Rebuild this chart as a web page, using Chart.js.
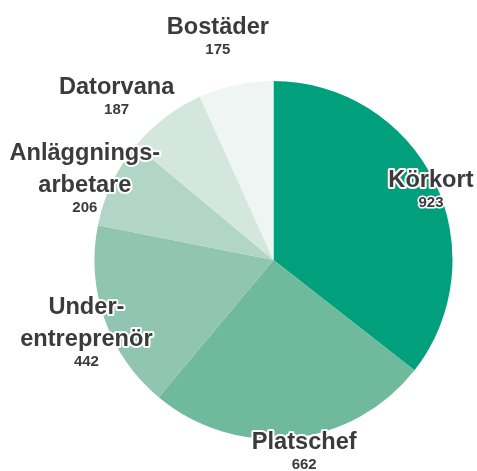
<!DOCTYPE html>
<html lang="sv">
<head>
  <meta charset="UTF-8" />
  <title>Pie</title>
  <script src="https://cdn.jsdelivr.net/npm/chart.js"></script>
  <style>
    body {
      margin: 0;
      background: #ffffff;
    }

    .wrap {
      width: 477px;
      height: 471px;
      position: relative;
    }
  </style>
</head>
<body>
  <div class="wrap">
    <canvas id="pieChart"></canvas>
  </div>

  <script>
    // data, clockwise from 12 o'clock
    const categories = [
      ["Körkort"],
      ["Platschef"],
      ["Under-", "entreprenör"],
      ["Anläggnings-", "arbetare"],
      ["Datorvana"],
      ["Bostäder"]
    ];
    const counts = [923, 662, 442, 206, 187, 175];
    const sliceColors = ["#00a07c", "#6fb99d", "#90c5b1", "#b1d6c8", "#d3e7df", "#eef5f2"];

    // label placement around each slice: radius factor and angle nudge (deg)
    const labelRadius = [0.965, 1.08, 1.12, 1.15, 1.27, 1.29];
    const labelShift = [1.7, -3.1, -1.6, -1.9, -6.4, -1.8];

    const sliceLabels = {
      id: "sliceLabels",
      afterDatasetsDraw(chart) {
        const ctx = chart.ctx;
        const arcs = chart.getDatasetMeta(0).data;
        ctx.save();
        ctx.textAlign = "center";
        ctx.textBaseline = "alphabetic";
        ctx.lineJoin = "round";
        ctx.strokeStyle = "#ffffff";
        ctx.fillStyle = "#3b3b3b";
        arcs.forEach((arc, i) => {
          const mid = (arc.startAngle + arc.endAngle) / 2 + labelShift[i] * Math.PI / 180;
          const r = arc.outerRadius * labelRadius[i];
          const cx = arc.x + Math.cos(mid) * r;
          const cy = arc.y + Math.sin(mid) * r;
          const lines = categories[i];
          const h = 16 + (lines.length - 1) * 32 + 20;
          let y = cy - h / 2 + 16;
          ctx.lineWidth = 4;
          ctx.font = "bold 23.6px 'Liberation Sans', Arial, sans-serif";
          lines.forEach((ln) => {
            ctx.strokeText(ln, cx, y);
            ctx.fillText(ln, cx, y);
            y += 32;
          });
          y -= 32;
          ctx.font = "bold 15px 'Liberation Sans', Arial, sans-serif";
          ctx.lineWidth = 3;
          ctx.strokeText(String(counts[i]), cx, y + 20);
          ctx.fillText(String(counts[i]), cx, y + 20);
        });
        ctx.restore();
      }
    };

    new Chart(document.getElementById("pieChart"), {
      type: "pie",
      data: {
        labels: categories.map(c => c.join("")),
        datasets: [{
          data: counts,
          backgroundColor: sliceColors,
          borderWidth: 0
        }]
      },
      options: {
        responsive: true,
        maintainAspectRatio: false,
        animation: false,
        layout: {
          padding: { left: 94.5, right: 24.5, top: 81, bottom: 32 }
        },
        plugins: {
          legend: { display: false },
          tooltip: { enabled: false }
        }
      },
      plugins: [sliceLabels]
    });
  </script>
</body>
</html>
